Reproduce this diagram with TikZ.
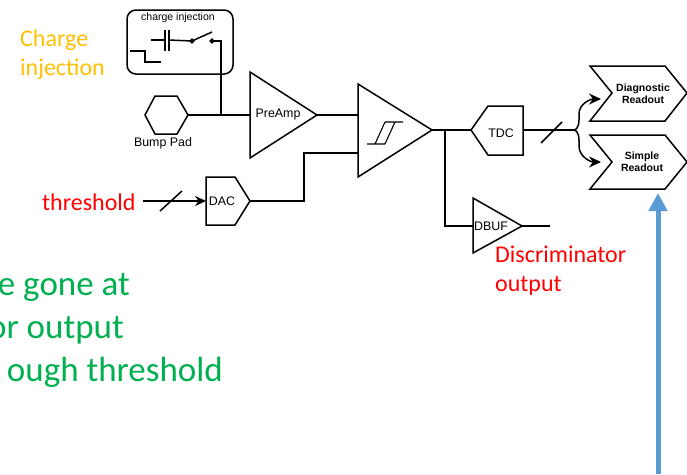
\documentclass[tikz,border=0pt]{standalone}
\usepackage{fontspec}
\setmainfont{Liberation Sans}
\newfontfamily\calibri{Carlito}
\usepackage{tikz}
\usetikzlibrary{arrows.meta}
\definecolor{chargeorange}{HTML}{FFC000}
\definecolor{notegreen}{HTML}{00B050}
\definecolor{arrowblue}{HTML}{5B9BD5}
\tikzset{
  wire/.style={line width=1.5pt,line join=miter},
  forkarrow/.style={wire,-{Stealth[length=12pt,width=11pt]}},
  blocklabel/.style={inner sep=0pt,font=\fontsize{12.4}{14}\selectfont},
  readoutlabel/.style={inner sep=0pt,align=center,font=\fontsize{10.5}{12}\selectfont\bfseries},
  smalllabel/.style={inner sep=0pt,font=\fontsize{10.5}{12}\selectfont},
  redtext/.style={inner sep=0pt,anchor=base west,text=red,font=\fontsize{24}{26}\selectfont\calibri},
  orangetext/.style={inner sep=0pt,anchor=base west,text=chargeorange,font=\fontsize{24}{26}\selectfont\calibri},
  greentext/.style={inner sep=0pt,anchor=base east,text=notegreen,font=\fontsize{35}{37}\selectfont\calibri},
}
\begin{document}
\begin{tikzpicture}[x=1pt,y=-1pt]
  \useasboundingbox (0,0) rectangle (687,474);
  % 1. the pins of the blocks
  \coordinate (padOut) at (188,115);
  \coordinate (ampIn) at (250,115);
  \coordinate (ampOut) at (317,115);
  \coordinate (discInA) at (358,115);
  \coordinate (discInB) at (358,153);
  \coordinate (discOut) at (432,130);
  \coordinate (dacIn) at (206,201);
  \coordinate (dacOut) at (250,201);
  \coordinate (tdcIn) at (471,130);
  \coordinate (tdcOut) at (523,130);
  \coordinate (dbufIn) at (473,226);
  \coordinate (dbufOut) at (522,226);
  \coordinate (dbufEnd) at (550,226);
  \coordinate (fork) at (573,130);
  \coordinate (forkUp) at (579,114);
  \coordinate (forkDown) at (579,146);
  \coordinate (diagIn) at (601,99);
  \coordinate (simpleIn) at (601,162);
  \coordinate (swIn) at (192,41);
  \coordinate (swOut) at (212,41);
  \coordinate (capL) at (165,40);
  \coordinate (capR) at (169,40);
  \coordinate (capIn) at (151,40);
  \coordinate (tap) at (221,115);
  \coordinate (branch) at (445,130);
  \coordinate (thrStart) at (143,201);
  % 2. charge injection box
  \draw[wire,rounded corners=9pt] (127,10) rectangle (233,74);
  \node[smalllabel] (injTitle) at (178,18) {charge injection};
  \draw[wire] (capIn) -- (capL);
  \draw[wire] (165,30) -- (165,51);
  \draw[wire] (169,30) -- (169,51);
  \draw[wire] (capR) -- (swIn);
  \draw[wire] (swIn) -- (212,32);
  \draw[wire] (swIn) circle (1.8);
  \draw[wire] (swOut) circle (1.8);
  \draw[wire] (swOut) -| (tap);
  \draw[wire] (130,51) -- (145,51) -- (145,62) -- (161,62);
  % 3. the blocks
  \draw[wire] (padOut) -- (177,96) -- (155,96) -- (145,115) -- (155,134) -- (177,134) -- cycle;
  \node[blocklabel] (padLabel) at (163,143) {Bump Pad};
  \draw[wire] (250,72) -- (ampOut) -- (250,158) -- cycle;
  \node[blocklabel] (ampLabel) at (278,115) {PreAmp};
  \draw[wire] (358,84) -- (discOut) -- (358,177) -- cycle;
  % hysteresis symbol
  \draw[wire,line width=1.1pt] (367,144) -- (385,144) -- (395,122) (385,122) -- (403,122) (385,122) -- (375,144);
  \draw[wire] (206,177) -- (235,177) -- (dacOut) -- (235,225) -- (206,225) -- cycle;
  \node[blocklabel] (dacLabel) at (222,201) {DAC};
  \draw[wire] (tdcIn) -- (488,106) -- (523,106) -- (523,155) -- (488,155) -- cycle;
  \node[blocklabel] (tdcLabel) at (501,133) {TDC};
  \draw[wire] (473,198) -- (dbufOut) -- (473,253) -- cycle;
  \node[blocklabel] (dbufLabel) at (491,226) {DBUF};
  \draw[wire] (590,66) -- (665,66) -- (687,93) -- (665,121) -- (590,121) -- (612,93) -- cycle;
  \node[readoutlabel] (diagLabel) at (643,94) {Diagnostic\\Readout};
  \draw[wire] (590,135) -- (665,135) -- (687,162) -- (665,189) -- (590,189) -- (612,162) -- cycle;
  \node[readoutlabel] (simpleLabel) at (642,162) {Simple\\Readout};
  % 4. the connectors
  \draw[wire] (padOut) -- (ampIn);
  \draw[wire] (ampOut) -- (discInA);
  \draw[wire] (dacOut) -- (304,201) -- (304,153) -- (discInB);
  \draw[wire] (discOut) -- (tdcIn);
  \draw[wire] (branch) |- (dbufIn);
  \draw[wire] (dbufOut) -- (dbufEnd);
  \draw[wire] (tdcOut) -- (fork);
  \draw[wire] (541,143) -- (562,122);
  \draw[forkarrow] (fork) to[out=0,in=-90] (forkUp) to[out=90,in=180] (diagIn);
  \draw[forkarrow] (fork) to[out=0,in=90] (forkDown) to[out=-90,in=180] (simpleIn);
  \draw[wire,-{Stealth[length=11pt,width=10pt]}] (thrStart) -- (dacIn);
  \draw[wire] (160,211) -- (182,191);
  \coordinate (blueStart) at (658,474);
  \coordinate (blueEnd) at (658,193);
  \draw[line width=5pt,arrowblue,-{Triangle[length=18pt,width=18pt]}] (blueStart) -- (blueEnd);
  % 5. the coloured text
  \node[orangetext] (chargeA) at (20,46) {Charge};
  \node[orangetext] (chargeB) at (20,75) {injection};
  \node[redtext] (thrLabel) at (42,210) {threshold};
  \node[redtext] (discA) at (495,262) {Discriminator};
  \node[redtext] (discB) at (495,291) {output};
  \node[greentext] (noteA) at (130,295) {e gone at};
  \node[greentext] (noteB) at (124,338) {or output};
  \node[greentext] (noteC) at (223,381) {ough threshold};
\end{tikzpicture}
\end{document}
